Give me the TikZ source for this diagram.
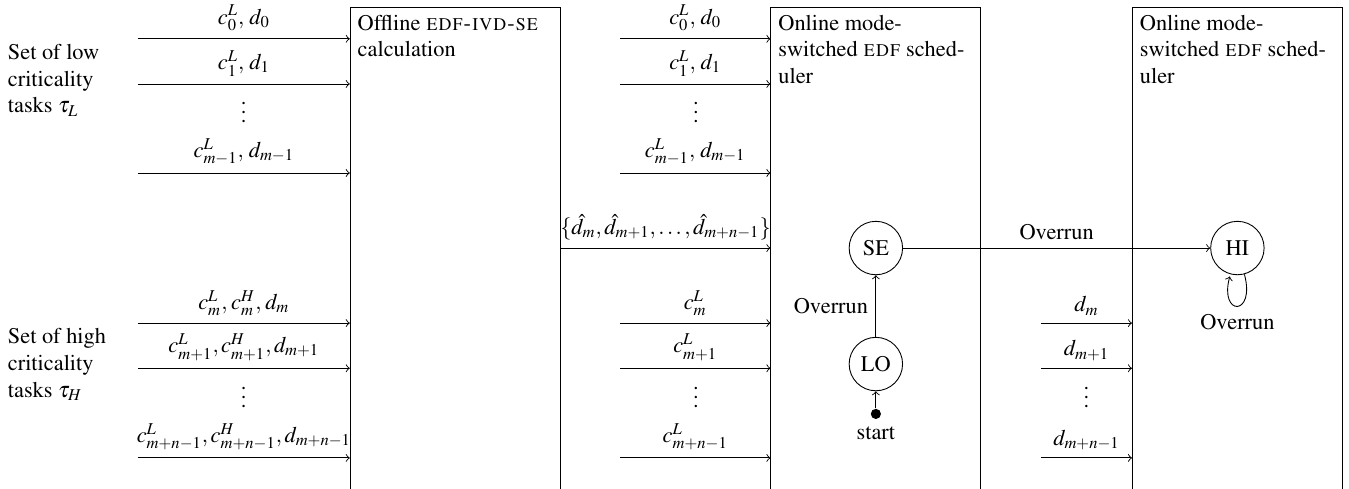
\documentclass[tikz,border=0pt]{standalone}
\usepackage[T1]{fontenc}
\usepackage{mathptmx}
\usetikzlibrary{calc,shapes,arrows,automata,positioning}
\tikzset{
     task node/.style={align=left, anchor=west},
      taskedge/.style   = {black, ->},
      block/.style = {draw, minimum width=3.3cm, minimum height=8cm, anchor=north west, inner sep=0pt},
      block text/.style = {align=left, anchor=north west},
      mode/.style = {state, minimum size=0.84cm, inner sep=1pt},
      start dot/.style = {circle, fill, inner sep=0pt, minimum size=0.16cm},
      position/.style args={#1:#2 from #3}{
        at=(#3.#1), anchor=#1+180, shift=(#1:#2)
    },
    }

\begin{document}
\begin{tikzpicture}
        \clip (0,0) rectangle (21.21,-7.673);
        % the three blocks
        \node [block] (offline) at (5.50,-0.11) {};
        \node [block, right=3.3cm of offline] (online) {};
        \node [block, right=2.37cm of online] (sched) {};
        \node [block text] (offtxt) at (offline.north west) {Offline \textsc{edf-ivd-se}\\calculation};
        \node [block text] (ontxt) at (online.north west) {Online mode-\\switched \textsc{edf} sched-\\uler};
        \node [block text] (schtxt) at (sched.north west) {Online mode-\\switched \textsc{edf} sched-\\uler};
        % task sets
        \node [task node] (low) at (0,-1.26) {Set of low\\criticality\\tasks $\tau_L$};
        \node [task node] (high) at (0,-5.73) {Set of high\\criticality\\tasks $\tau_H$};
        \coordinate (l0) at (2.17,-0.61);
        \coordinate (l1) at (2.17,-1.32);
        \coordinate (l2) at (2.17,-2.72);
        \coordinate (h0) at (2.17,-5.08);
        \coordinate (h1) at (2.17,-5.79);
        \coordinate (h2) at (2.17,-7.20);
        \coordinate (m0) at (9.75,-0.61);
        \coordinate (m1) at (9.75,-1.32);
        \coordinate (m2) at (9.75,-2.72);
        \coordinate (k0) at (9.75,-5.08);
        \coordinate (k1) at (9.75,-5.79);
        \coordinate (k2) at (9.75,-7.20);
        \coordinate (n0) at (16.37,-5.08);
        \coordinate (n1) at (16.37,-5.79);
        \coordinate (n2) at (16.37,-7.20);
        \coordinate (dh) at (0,-3.90);
        \node [anchor=base] (ldots) at (3.83,-1.92) {$\vdots$};
        \node [anchor=base] (hdots) at (3.83,-6.41) {$\vdots$};
        \node [anchor=base] (mdots) at (10.94,-1.92) {$\vdots$};
        \node [anchor=base] (kdots) at (10.94,-6.41) {$\vdots$};
        \node [anchor=base] (ndots) at (17.08,-6.41) {$\vdots$};
        \path[taskedge]
        (l0) edge node [above] {$c^L_0,\, d_0$} (l0 -| offline.west)
        (l1) edge node [above] {$c^L_1,\, d_1$} (l1 -| offline.west)
        (l2) edge node [above] {$c^L_{m-1},\, d_{m-1}$} (l2 -| offline.west)
        (h0) edge node [above] {$c^L_m,\mkern1mu c^H_m,\mkern1mu d_m$} (h0 -| offline.west)
        (h1) edge node [above] {$c^L_{m+1}, c^H_{m+1}, d_{m+1}$} (h1 -| offline.west)
        (h2) edge node [above] {$c^L_{m+n-1}, c^H_{m+n-1}, d_{m+n-1}$} (h2 -| offline.west)
        (m0) edge node [above] {$c^L_0,\, d_0$} (m0 -| online.west)
        (m1) edge node [above] {$c^L_1,\, d_1$} (m1 -| online.west)
        (m2) edge node [above] {$c^L_{m-1},\, d_{m-1}$} (m2 -| online.west)
        (dh -| offline.east) edge node [above] {$\{\hat{d}_m, \hat{d}_{m+1}, \ldots, \hat{d}_{m+n-1}\}$} (dh -| online.west)
        (k0) edge node [above] {$c^L_m$} (k0 -| online.west)
        (k1) edge node [above] {$c^L_{m+1}$} (k1 -| online.west)
        (k2) edge node [above] {$c^L_{m+n-1}$} (k2 -| online.west)
        (n0) edge node [above] {$d_m$} (n0 -| sched.west)
        (n1) edge node [above] {$d_{m+1}$} (n1 -| sched.west)
        (n2) edge node [above] {$d_{m+n-1}$} (n2 -| sched.west);
        % mode switch
        \node [mode] (se) at (dh -| online.north) {SE};
        \node [mode] (lo) [position=270:0.97cm from se] {LO};
        \node [mode] (hi) at (dh -| sched.north) {HI};
        \node [start dot, label=below:start] (start) [position=270:0.27cm from lo] {};
        \path[taskedge]
        (start) edge (lo)
        (lo) edge node [left] {Overrun} (se)
        (se) edge node [above] {Overrun} (hi)
        (hi) edge [out=-75, in=-105, loop] node [below] {Overrun} (hi);
    \end{tikzpicture}
\end{document}
